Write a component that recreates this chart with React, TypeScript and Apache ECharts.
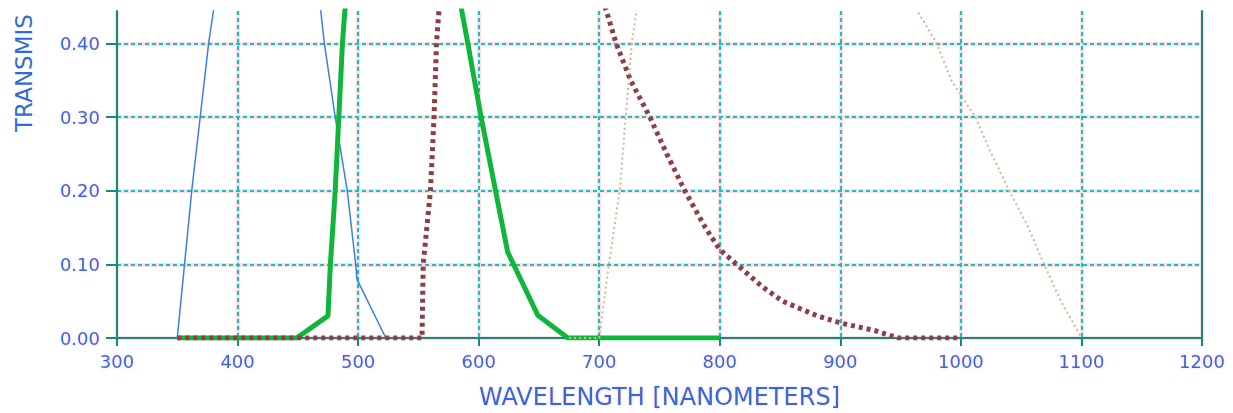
import React, { useEffect, useRef } from "react";
import * as echarts from "echarts";

// Axis ranges / ticks
const xMin = 300;
const xMax = 1200;
const xStep = 100;
const yMin = 0;
const yMax = 0.444;
const yStep = 0.1;

// Series: wavelength (nm) and transmission
const blueWl = [350, 356, 362, 369, 376, 380, 400, 440, 469, 472, 481, 491, 498, 499, 523];
const blueT = [0, 0.1, 0.2, 0.3, 0.4, 0.444, 0.74, 0.78, 0.444, 0.4, 0.3, 0.2, 0.1, 0.08, 0];

const greenWl = [350, 449, 475, 477, 481, 484, 487, 489, 510, 545, 570, 586, 591, 602, 614, 624, 649, 674, 800];
const greenT = [0, 0, 0.03, 0.1, 0.2, 0.3, 0.4, 0.444, 0.72, 0.8, 0.6, 0.444, 0.4, 0.3, 0.2, 0.117, 0.031, 0, 0];

const brownWl = [350, 553, 554, 560, 563, 565, 567, 600, 650, 700, 706, 714, 726, 742, 756, 771, 788, 800, 814, 835, 852, 881, 901, 929, 948, 1000];
const brownT = [0, 0, 0.1, 0.2, 0.3, 0.4, 0.444, 0.68, 0.7, 0.47, 0.444, 0.4, 0.35, 0.3, 0.25, 0.2, 0.15, 0.12, 0.1, 0.07, 0.05, 0.03, 0.02, 0.01, 0, 0];

const tanWl = [675, 700, 708, 717, 722, 727, 731, 760, 850, 920, 964, 980, 992, 1012, 1024, 1040, 1056, 1069, 1083, 1100];
const tanT = [0, 0, 0.1, 0.2, 0.3, 0.4, 0.444, 0.75, 0.8, 0.6, 0.444, 0.4, 0.35, 0.3, 0.255, 0.2, 0.15, 0.1, 0.05, 0];

const xTitle = "WAVELENGTH [NANOMETERS]";
const yTitle = "TRANSMIS";

const zip = (a: number[], b: number[]) => a.map((v, i) => [v, b[i]]);

const LABEL = "#2f6cd6";
const TEAL = "#17897f";
const CYAN = "#16c0c8";
const PINK = "#fde0e0";
const FONT = "DejaVu Sans";

export default function App() {
  const ref = useRef<HTMLDivElement>(null);
  useEffect(() => {
    if (!ref.current) return;
    const chart = echarts.init(ref.current, undefined, { renderer: "svg" });
    const labelStyle = {
      fontFamily: FONT,
      fontSize: 18,
      color: LABEL,
      textShadowColor: "rgba(240,80,220,0.35)",
      textShadowBlur: 2,
    };
    chart.setOption({
      animation: false,
      backgroundColor: "#ffffff",
      grid: { left: 117, right: 31, top: 11, bottom: 75, containLabel: false, outerBoundsMode: "none" },
      xAxis: [
        {
          type: "value",
          min: xMin,
          max: xMax,
          interval: xStep,
          z: 2,
          axisLine: { show: true, onZero: false, lineStyle: { color: TEAL, width: 2 } },
          axisTick: { show: true, length: 8, lineStyle: { color: TEAL, width: 2 } },
          axisLabel: { margin: 14, formatter: (v: number) => String(v), ...labelStyle },
          splitLine: {
            show: true,
            showMinLine: false,
            showMaxLine: false,
            lineStyle: { color: CYAN, width: 2, type: [4, 3] },
          },
          name: xTitle,
          nameLocation: "middle",
          nameGap: 47,
          nameTextStyle: { ...labelStyle, fontSize: 24 },
        },
        {
          type: "value",
          min: xMin,
          max: xMax,
          interval: xStep,
          position: "top",
          z: 0,
          axisLine: { show: false },
          axisTick: { show: false },
          axisLabel: { show: false },
          splitLine: { show: true, lineStyle: { color: PINK, width: 4 } },
        },
      ],
      yAxis: [
        {
          type: "value",
          min: yMin,
          max: yMax,
          interval: yStep,
          z: 2,
          axisLine: { show: true, onZero: false, lineStyle: { color: TEAL, width: 2 } },
          axisTick: { show: true, length: 11, lineStyle: { color: TEAL, width: 2 } },
          axisLabel: {
            margin: 17,
            showMaxLabel: false,
            formatter: (v: number) => v.toFixed(2),
            ...labelStyle,
          },
          splitLine: {
            show: true,
            showMinLine: false,
            showMaxLine: false,
            lineStyle: { color: CYAN, width: 2, type: [4, 3] },
          },
        },
        {
          type: "value",
          min: yMin,
          max: yMax,
          interval: yStep,
          position: "right",
          z: 0,
          axisLine: { show: true, onZero: false, lineStyle: { color: TEAL, width: 2 } },
          axisTick: { show: false },
          axisLabel: { show: false },
          splitLine: { show: true, showMaxLine: false, lineStyle: { color: PINK, width: 4 } },
        },
      ],
      graphic: [
        {
          type: "text",
          x: 24,
          y: 73,
          rotation: Math.PI / 2,
          style: {
            text: yTitle,
            fontFamily: FONT,
            fontSize: 23,
            fill: LABEL,
            align: "center",
            verticalAlign: "middle",
            textAlign: "center",
            textVerticalAlign: "middle",
          },
        },
      ],
      series: [
        {
          type: "line",
          data: zip(blueWl, blueT),
          symbol: "none",
          clip: true,
          z: 3,
          lineStyle: { color: "#3b7fe8", width: 1.5 },
        },
        {
          type: "line",
          data: zip(greenWl, greenT),
          symbol: "none",
          clip: true,
          z: 4,
          lineStyle: { color: "#10b53c", width: 5 },
        },
        {
          type: "line",
          data: zip(brownWl, brownT),
          symbol: "none",
          clip: true,
          z: 5,
          lineStyle: { color: "#8e3e44", width: 5, type: [4, 4] },
        },
        {
          type: "line",
          data: zip(tanWl, tanT),
          symbol: "none",
          clip: true,
          z: 6,
          lineStyle: { color: "#cdb995", width: 2, type: [2, 3] },
        },
      ],
    });
    return () => chart.dispose();
  }, []);
  return (
    <div
      ref={ref}
      style={{ position: "fixed", left: 0, top: 0, width: 1233, height: 413, background: "#fff" }}
    />
  );
}
